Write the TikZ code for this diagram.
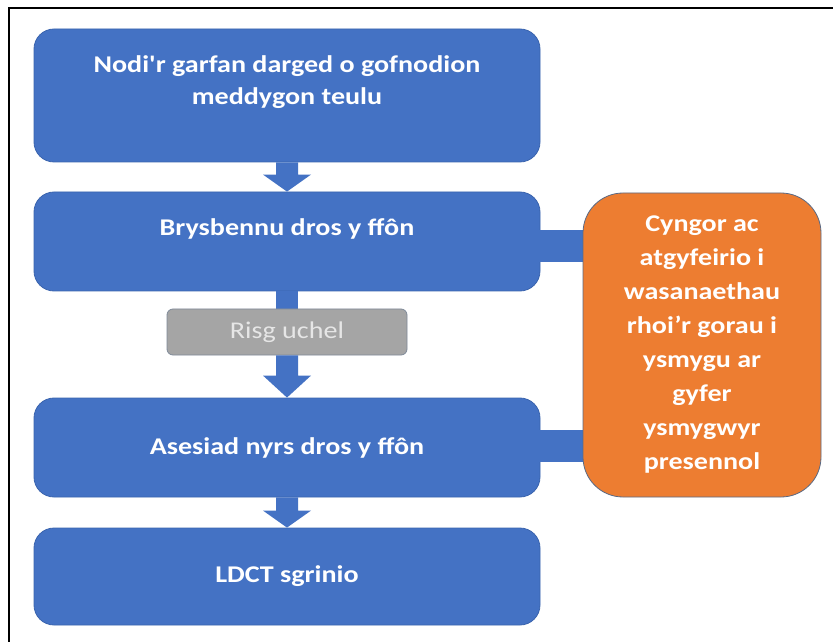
\documentclass[tikz,border=0pt]{standalone}
\usepackage{fontspec}
\newfontfamily\mainf{Carlito}[FakeStretch=1.17]
\usetikzlibrary{calc}
\definecolor{bblue}{HTML}{4472C4}
\definecolor{bborder}{HTML}{3A64AE}
\definecolor{oorange}{HTML}{ED7D31}
\definecolor{oborder}{HTML}{5A6A85}
\definecolor{ggray}{HTML}{A5A5A5}
\definecolor{gborder}{HTML}{7F8A99}
\definecolor{gtext}{HTML}{E6E6E6}
\tikzset{
  bluebox/.style={draw=bborder, line width=0.8pt, fill=bblue, rounded corners=20pt,
    minimum width=506pt, inner sep=0pt},
  boxtext/.style={text=white, font=\mainf\fontsize{24}{32}\selectfont\bfseries, align=center, inner sep=0pt},
  orangebox/.style={draw=oborder, line width=0.8pt, fill=oorange, rounded corners=40pt,
    minimum width=238pt, minimum height=304pt, inner sep=0pt,
    text=white, font=\mainf\fontsize{24}{34}\selectfont\bfseries, align=center},
  graybox/.style={draw=gborder, line width=0.8pt, fill=ggray, rounded corners=6pt,
    minimum width=240pt, minimum height=46pt, inner sep=0pt,
    text=gtext, font=\mainf\fontsize{24}{26}\selectfont},
  arrowfill/.style={fill=bblue},
  frame/.style={draw=black, line width=1.6pt}
}
\begin{document}
\begin{tikzpicture}[x=1pt,y=1pt]
\useasboundingbox (0,0) rectangle (833,641);
\fill[white] (0,0) rectangle (833,641);
\draw[frame] (9,-10) -- (9,633) -- (845,633);

% boxes (y = 641 - pixel y)
\node[bluebox, minimum height=133pt] (b1) at (287,545.5) {};
\node[boxtext] (t1) at ($(b1.center)+(0,13.5)$) {Nodi'r garfan darged o gofnodion\\meddygon teulu};
\node[bluebox, minimum height=99pt] (b2) at (287,399.5) {};
\node[boxtext] (t2) at ($(b2.center)+(0,13)$) {Brysbennu dros y ffôn};
\node[bluebox, minimum height=99pt] (b3) at (287,193.5) {};
\node[boxtext] (t3) at (b3.center) {Asesiad nyrs dros y ffôn};
\node[bluebox, minimum height=97pt] (b4) at (287,64.5) {};
\node[boxtext] (t4) at (b4.center) {LDCT sgrinio};

% orange box and connector bars
\coordinate (oc) at (702,296);
\fill[bblue] let \p1=(b2.east), \p2=($(oc)+(-119,0)$) in (\x1-1,379) rectangle (\x2+2,411);
\fill[bblue] let \p1=(b3.east), \p2=($(oc)+(-119,0)$) in (\x1-1,179) rectangle (\x2+2,211);
\node[orangebox] (o) at (oc) {Cyngor ac\\atgyfeirio i\\wasanaethau\\rhoi’r gorau i\\ysmygu ar\\gyfer\\ysmygwyr\\presennol};

% block arrows
\fill[arrowfill] let \p1=(b1.south), \p2=(b2.north) in
  (\x1-11,\y1) -- (\x1-11,\y2+17) -- (\x1-24,\y2+17) -- (\x1,\y2) -- (\x1+24,\y2+17) -- (\x1+11,\y2+17) -- (\x1+11,\y1) -- cycle;
\fill[arrowfill] let \p1=(b2.south) in (\x1-11,\y1) rectangle (\x1+11,\y1-22);
\node[graybox] (r) at (287,309) {Risg uchel};
\fill[arrowfill] let \p1=(r.south), \p2=(b3.north) in
  (\x1-11,\y1) -- (\x1-11,\y2+22) -- (\x1-24,\y2+22) -- (\x1,\y2) -- (\x1+24,\y2+22) -- (\x1+11,\y2+22) -- (\x1+11,\y1) -- cycle;
\fill[arrowfill] let \p1=(b3.south), \p2=(b4.north) in
  (\x1-11,\y1) -- (\x1-11,\y2+17) -- (\x1-24,\y2+17) -- (\x1,\y2) -- (\x1+24,\y2+17) -- (\x1+11,\y2+17) -- (\x1+11,\y1) -- cycle;
\end{tikzpicture}
\end{document}
